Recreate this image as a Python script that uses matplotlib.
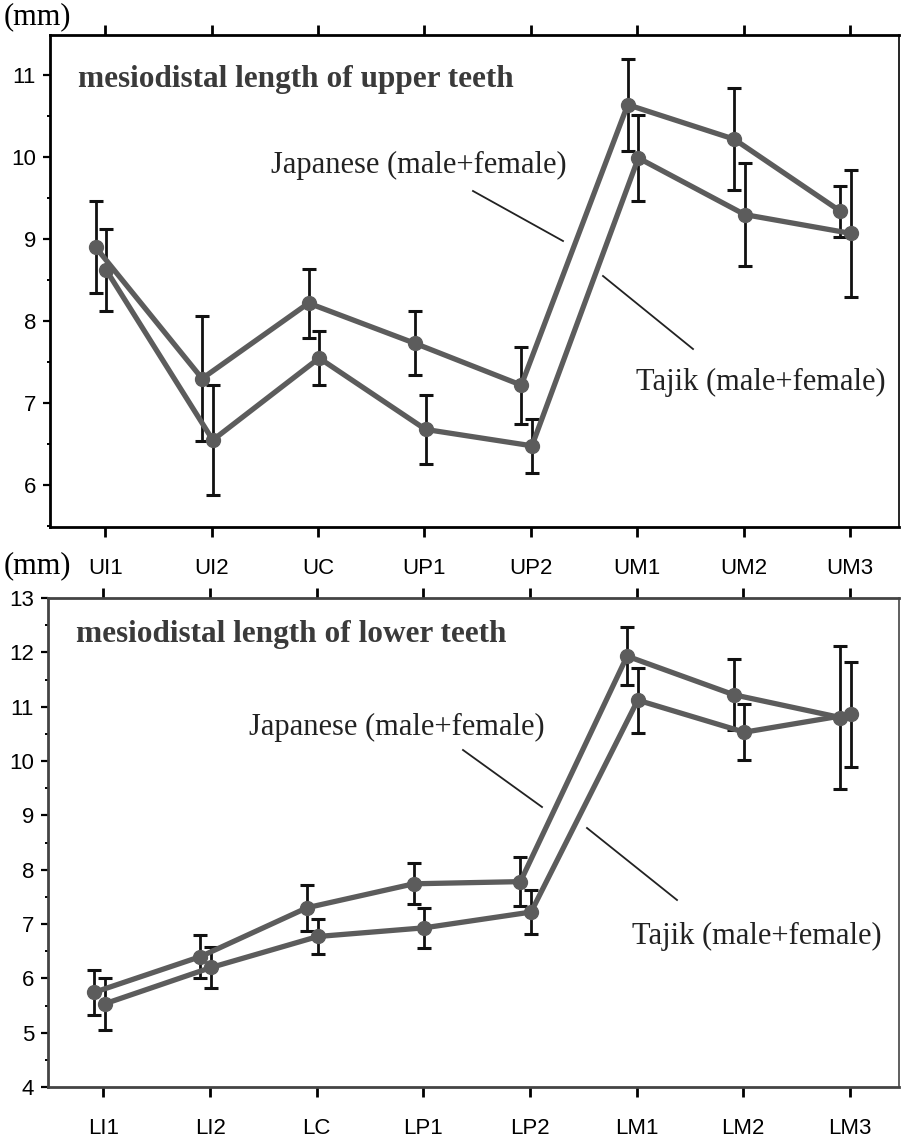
import matplotlib
matplotlib.use("Agg")
import matplotlib.pyplot as plt
from matplotlib.ticker import MultipleLocator
import numpy as np

upper_teeth = ["UI1", "UI2", "UC", "UP1", "UP2", "UM1", "UM2", "UM3"]
lower_teeth = ["LI1", "LI2", "LC", "LP1", "LP2", "LM1", "LM2", "LM3"]

upper_japanese = [8.90, 7.30, 8.22, 7.73, 7.22, 10.64, 10.22, 9.34]
upper_japanese_sd = [0.56, 0.76, 0.42, 0.39, 0.47, 0.56, 0.62, 0.31]
upper_tajik = [8.62, 6.55, 7.55, 6.68, 6.48, 9.99, 9.30, 9.07]
upper_tajik_sd = [0.50, 0.67, 0.33, 0.42, 0.33, 0.53, 0.63, 0.77]

lower_japanese = [5.74, 6.40, 7.30, 7.74, 7.78, 11.93, 11.22, 10.80]
lower_japanese_sd = [0.42, 0.40, 0.42, 0.38, 0.45, 0.53, 0.65, 1.32]
lower_tajik = [5.53, 6.20, 6.77, 6.93, 7.22, 11.12, 10.53, 10.86]
lower_tajik_sd = [0.48, 0.38, 0.33, 0.37, 0.40, 0.60, 0.52, 0.97]

SERIF = ["Liberation Serif", "DejaVu Serif"]
SANS = ["Liberation Sans", "DejaVu Sans"]
LINE_C = "#5c5c5c"

fig = plt.figure(figsize=(9.01, 11.43), dpi=100)
W, H = 901, 1143

def px_axes(l, t, r, b):
    return fig.add_axes([l / W, 1 - b / H, (r - l) / W, (b - t) / H])

ax1 = px_axes(50, 35, 899, 527)
ax2 = px_axes(48, 598, 899, 1087)

def draw(ax, labels, jp, jpsd, tj, tjsd, ylim, spine_c, title, title_y):
    x = np.arange(len(labels))
    for vals, sd, off in ((tj, tjsd, 0.01), (jp, jpsd, -0.09)):
        xs = x + off
        ax.errorbar(xs, vals, yerr=sd, fmt="none", ecolor="#111111",
                    elinewidth=2.0, capsize=5, capthick=2.2, zorder=2)
        ax.plot(xs, vals, "-", color=LINE_C, lw=3.8, zorder=3,
                solid_joinstyle="round")
        ax.plot(xs, vals, "o", color=LINE_C, ms=10, mec=LINE_C, zorder=4)
    ax.set_xlim(-0.52, 7.46)
    ax.set_ylim(*ylim)
    ax.set_xticks(x)
    ax.set_xticklabels(labels, fontfamily=SANS, fontsize=16)
    ax.tick_params(axis="x", direction="out", length=7, width=2,
                   top=True, bottom=True, pad=15, colors="black")
    ax.yaxis.set_major_locator(MultipleLocator(1))
    ax.yaxis.set_minor_locator(MultipleLocator(0.5))
    ax.tick_params(axis="y", which="major", direction="out", length=5,
                   width=1.6, pad=5, labelsize=16)
    ax.tick_params(axis="y", which="minor", direction="out", length=2.5,
                   width=1.4)
    for lab in ax.get_yticklabels():
        lab.set_fontfamily(SANS)
    for s in ax.spines.values():
        s.set_linewidth(2.0)
        s.set_color(spine_c)
    ax.spines["right"].set_linewidth(1.2)
    ax.text(0.033, title_y, title, transform=ax.transAxes, fontfamily=SERIF,
            fontweight="bold", fontsize=22.5, color="#3a3a3a",
            va="center", ha="left")

draw(ax1, upper_teeth, upper_japanese, upper_japanese_sd, upper_tajik,
     upper_tajik_sd, (5.49, 11.49), "black",
     "mesiodistal length of upper teeth", 0.91)
draw(ax2, lower_teeth, lower_japanese, lower_japanese_sd, lower_tajik,
     lower_tajik_sd, (4, 13), "#444444",
     "mesiodistal length of lower teeth", 0.925)

# "(mm)" unit labels
fig.text(4 / W, 1 - 17 / H, "(mm)", fontfamily=SERIF, fontsize=22,
         va="center", ha="left")
fig.text(4 / W, 1 - 566 / H, "(mm)", fontfamily=SERIF, fontsize=22,
         va="center", ha="left")

# annotations (pixel coordinates converted to figure fraction)
def fline(x0, y0, x1, y1):
    fig.add_artist(plt.Line2D([x0 / W, x1 / W], [1 - y0 / H, 1 - y1 / H],
                              color="#222222", lw=1.3))

def ftext(x, y, s):
    fig.text(x / W, 1 - y / H, s, fontfamily=SERIF, fontsize=22,
             va="center", ha="left", color="#222222")

ftext(271, 165, "Japanese (male+female)")
fline(473, 191, 563, 241)
ftext(636, 382, "Tajik (male+female)")
fline(603, 276, 693, 349)

ftext(249, 727, "Japanese (male+female)")
fline(463, 750, 542, 807)
ftext(632, 936, "Tajik (male+female)")
fline(587, 828, 677, 900)

fig.savefig("out.png", dpi=100)
